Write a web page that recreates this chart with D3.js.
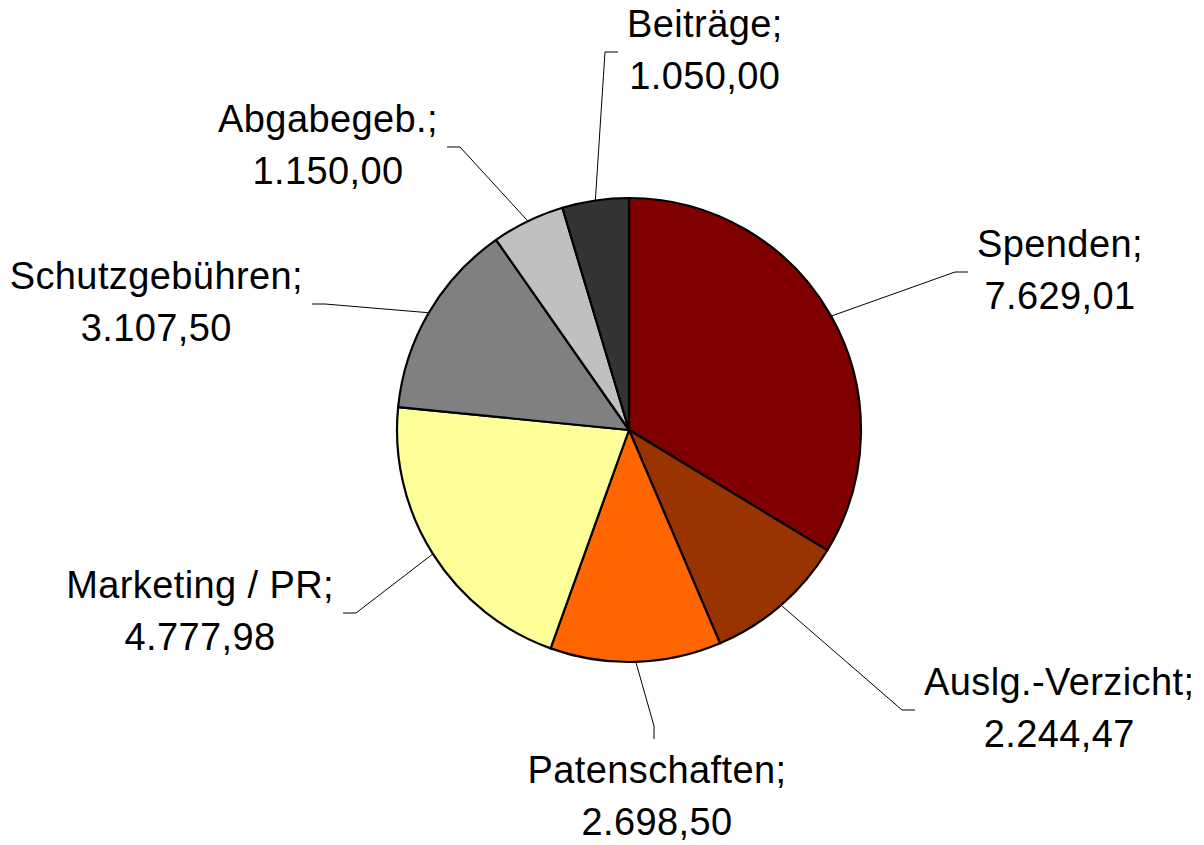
<!DOCTYPE html>
<html>
<head>
<meta charset="utf-8">
<script src="https://cdn.jsdelivr.net/npm/d3@7"></script>
<style>
body { margin: 0; background: #fff; }
text { font-family: "Liberation Sans", Arial, sans-serif; font-size: 38px; letter-spacing: 0.4px; fill: #000; }
</style>
</head>
<body>
<script>

// data
var categories = ["Spenden", "Auslg.-Verzicht", "Patenschaften", "Marketing / PR", "Schutzgebühren", "Abgabegeb.", "Beiträge"];
var values = [7629.01, 2244.47, 2698.50, 4777.98, 3107.50, 1150.00, 1050.00];
var colors = ["#800000", "#993300", "#ff6600", "#ffff99", "#808080", "#c0c0c0", "#333333"];

// layout: where each leader line ends (offset from the pie centre) and on which side the label sits
var labelAnchor = [
    [339, -158, "right"],
    [286, 280, "right"],
    [25, 309, "bottom"],
    [-286, 183, "left"],
    [-317, -126, "left"],
    [-182, -283, "left"],
    [-11, -378, "right"]
];

function plot_it() {
    var width = 1204, height = 845;
    var cx = 629, cy = 430, radius = 232;
    var tick = 13, gap = 9, lineGap = 52;

    var de = d3.formatLocale({ decimal: ",", thousands: ".", grouping: [3], currency: ["", ""] });
    var fmt = de.format(",.2f");

    var svg = d3.select("body").append("svg")
        .attr("width", width)
        .attr("height", height);

    var g = svg.append("g")
        .attr("transform", "translate(" + cx + "," + cy + ")");

    var rows = categories.map(function (c, i) { return { name: c, value: values[i], color: colors[i], idx: i }; });

    var pie = d3.pie().sort(null).value(function (d) { return d.value; })
        .startAngle(0).endAngle(2 * Math.PI);
    var arcs = pie(rows);

    var arc = d3.arc().innerRadius(0).outerRadius(radius);
    var edge = d3.arc().innerRadius(radius).outerRadius(radius);

    // slices
    g.selectAll("path.slice").data(arcs).enter().append("path")
        .attr("class", "slice")
        .attr("d", arc)
        .attr("fill", function (d) { return d.data.color; })
        .attr("stroke", "#000")
        .attr("stroke-width", 2.2)
        .attr("stroke-linejoin", "round");

    // leader lines
    var line = d3.line();
    g.selectAll("path.leader").data(arcs).enter().append("path")
        .attr("class", "leader")
        .attr("d", function (d) {
            var a = labelAnchor[d.data.idx];
            var start = edge.centroid(d);
            var bend;
            if (a[2] == "right") bend = [a[0] - tick, a[1]];
            else if (a[2] == "left") bend = [a[0] + tick, a[1]];
            else bend = [a[0], a[1] - tick];
            return line([start, bend, [a[0], a[1]]]);
        })
        .attr("fill", "none")
        .attr("stroke", "#000")
        .attr("stroke-width", 1);

    // labels
    arcs.forEach(function (d) {
        var a = labelAnchor[d.data.idx];
        var t = g.append("text").attr("text-anchor", "middle");
        var l1 = t.append("tspan").text(d.data.name + ";");
        var l2 = t.append("tspan").text(fmt(d.data.value));
        var w = Math.max(l1.node().getComputedTextLength(), l2.node().getComputedTextLength());
        var x, y1;
        if (a[2] == "right") { x = a[0] + gap + w / 2; y1 = a[1] - 15; }
        else if (a[2] == "left") { x = a[0] - gap - w / 2; y1 = a[1] - 15; }
        else { x = a[0] + 3; y1 = a[1] + 44; }
        l1.attr("x", x).attr("y", y1);
        l2.attr("x", x).attr("y", y1 + lineGap);
    });
}

plot_it();
</script>
</body>
</html>
